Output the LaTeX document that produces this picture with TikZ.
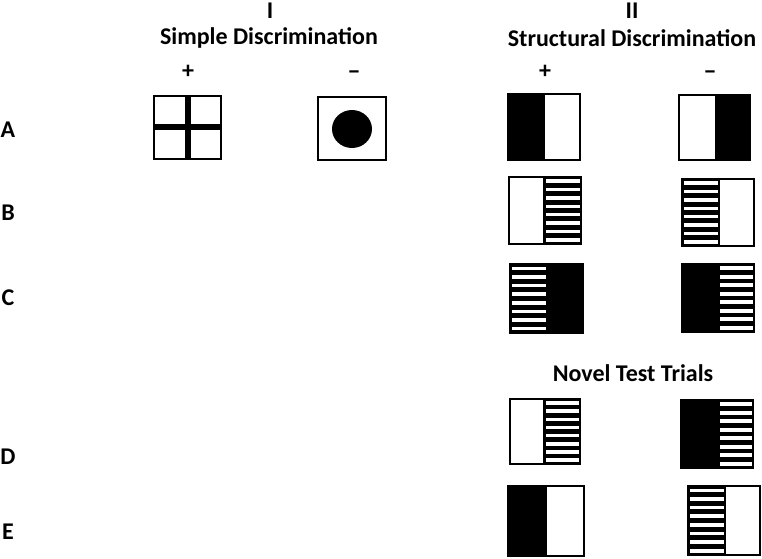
\documentclass[tikz,border=0pt]{standalone}
\usepackage{fontspec}
\setmainfont{Carlito}
\usetikzlibrary{positioning}

% white bars over a black half: left, right, top, bottom (pixel units)
\newcommand{\stripes}[4]{%
  \foreach \i in {0,...,7}
    \fill[white] ({#1+1.8},{#3+(#4-#3)*(\i+0.5)/8-1.8}) rectangle ({#2-1.2},{#3+(#4-#3)*(\i+0.5)/8+1.8});}

\begin{document}
\begin{tikzpicture}[
  x=1pt, y=-1pt,
  every node/.style={font=\fontsize{24}{28}\bfseries\selectfont, inner sep=0pt},
  frame/.style={draw, line width=2.4pt},
  divide/.style={line width=2.4pt}
]
\useasboundingbox (0,0) rectangle (762,558);

% headings
\node (simple) at (269,38) {Simple Discrimination};
\node (structural) at (632,38) {Structural Discrimination};
\node (one) at (270,11) {I};
\node (two) at (632,11) {II};
\node (plusI) at (188,72) {+};
\node[anchor=base] (minusI) at (354,79) {−};
\node (plusII) at (545,72) {+};
\node[anchor=base] (minusII) at (710,79) {−};
\node (novel) at (633,373) {Novel Test Trials};

% row letters
\node (rowA) at (8,130) {A};
\node (rowB) at (8,213) {B};
\node (rowC) at (8,298) {C};
\node (rowD) at (8,457) {D};
\node (rowE) at (8,532) {E};

% A, simple discrimination
\fill (185,96) rectangle (191,159);
\fill (154,124) rectangle (221,130);
\draw[frame] (154,96) rectangle (221,159);
\fill (352,129) ellipse [x radius=20, y radius=19];
\draw[frame] (318,97) rectangle (386,160);

% A, structural
\fill (508,94) rectangle (545,160);
\draw[frame] (508,94) rectangle (580,160);
\fill (715,95) rectangle (750,160);
\draw[frame] (679,95) rectangle (750,160);

% B
\fill (544,177) rectangle (581,244);
\stripes{544}{581}{177}{244}
\draw[frame] (509,177) rectangle (581,244);
\draw[divide] (544,177) -- (544,244);
\fill (682,179) rectangle (719,246);
\stripes{682}{719}{179}{246}
\draw[frame] (682,179) rectangle (754,246);
\draw[divide] (719,179) -- (719,246);

% C
\fill (510,264) rectangle (583,333);
\stripes{510}{547}{264}{333}
\draw[frame] (510,264) rectangle (583,333);
\fill (682,264) rectangle (754,332);
\stripes{718}{754}{264}{332}
\draw[frame] (682,264) rectangle (754,332);

% D
\fill (544,399) rectangle (580,464);
\stripes{544}{580}{399}{464}
\draw[frame] (510,399) rectangle (580,464);
\draw[divide] (544,399) -- (544,464);
\fill (681,400) rectangle (753,468);
\stripes{718}{753}{400}{468}
\draw[frame] (681,400) rectangle (753,468);

% E
\fill (508,486) rectangle (547,556);
\draw[frame] (508,486) rectangle (584,556);
\fill (688,486) rectangle (725,555);
\stripes{688}{725}{486}{555}
\draw[frame] (688,486) rectangle (760,555);
\draw[divide] (725,486) -- (725,555);
\end{tikzpicture}
\end{document}
